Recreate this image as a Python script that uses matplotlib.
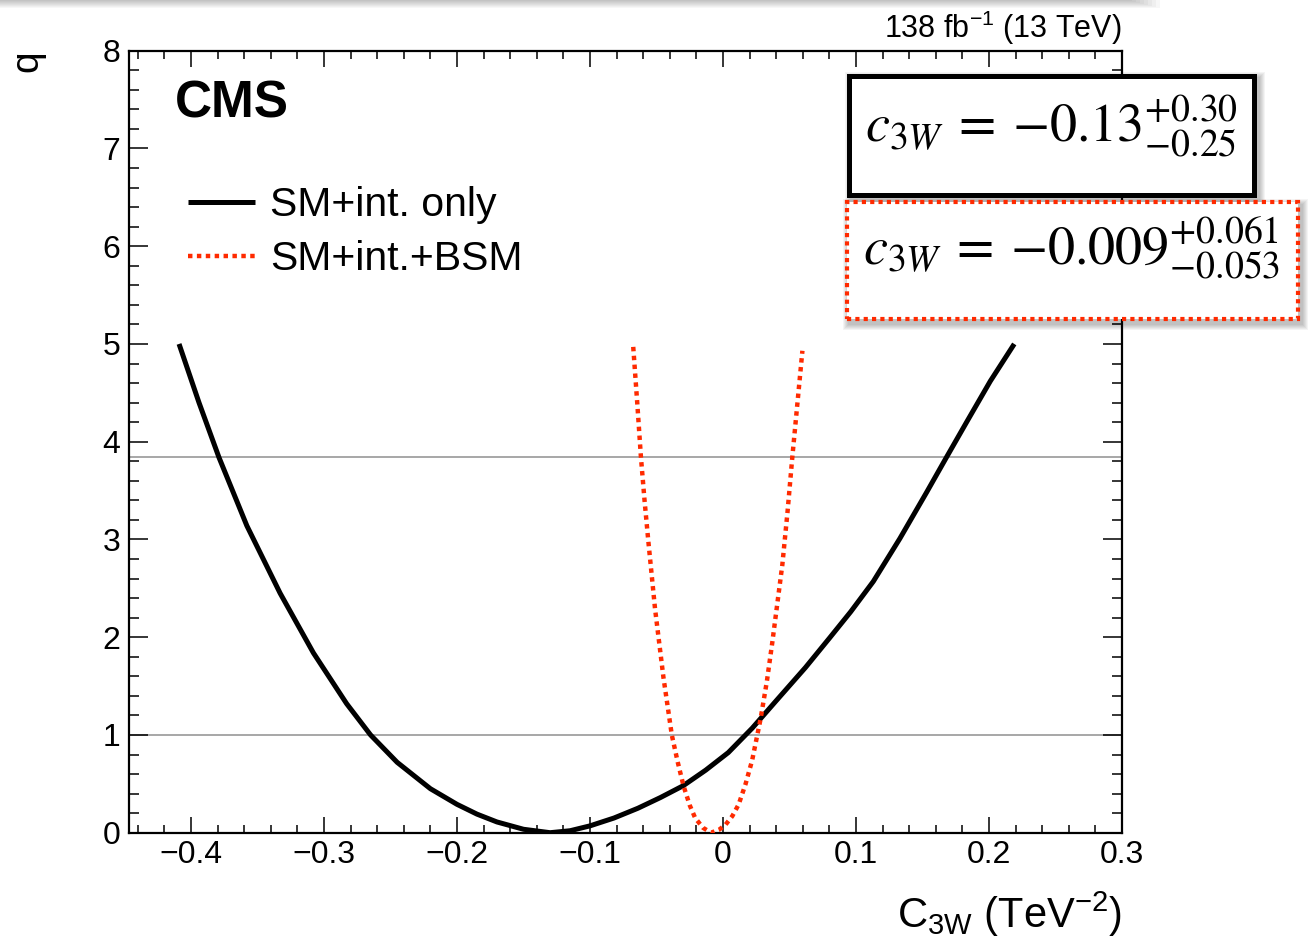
import matplotlib
matplotlib.use("Agg")
import matplotlib.pyplot as plt
from matplotlib.patches import Rectangle
from matplotlib.lines import Line2D
from matplotlib.ticker import MultipleLocator, FuncFormatter

# Likelihood scan: SM + interference only
c3w_sm = [-0.409, -0.394, -0.379, -0.358, -0.333, -0.308, -0.283, -0.265, -0.245,
          -0.220, -0.200, -0.185, -0.170, -0.150, -0.130, -0.115, -0.100, -0.082,
          -0.064, -0.047, -0.030, -0.013, 0.004, 0.022, 0.040, 0.062, 0.080, 0.096,
          0.113, 0.133, 0.153, 0.168, 0.184, 0.201, 0.219]
q_sm = [5.00, 4.40, 3.84, 3.14, 2.45, 1.84, 1.32, 1.00, 0.72,
        0.45, 0.29, 0.19, 0.11, 0.035, 0.0, 0.02, 0.07, 0.15,
        0.25, 0.36, 0.48, 0.64, 0.82, 1.07, 1.35, 1.69, 1.99, 2.26,
        2.57, 3.01, 3.48, 3.84, 4.22, 4.62, 5.00]

# Likelihood scan: SM + interference + BSM
c3w_bsm = [-0.0675, -0.0645, -0.0617, -0.0590, -0.0562, -0.0511, -0.0448, -0.0385,
           -0.0340, -0.0297, -0.0250, -0.0209, -0.0150, -0.0090, -0.0030, 0.0018,
           0.0070, 0.0118, 0.0170, 0.0219, 0.0282, 0.0330, 0.0370, 0.0446, 0.0485,
           0.0521, 0.0560, 0.0597]
q_bsm = [4.97, 4.40, 3.84, 3.40, 2.99, 2.29, 1.59, 1.00,
         0.72, 0.48, 0.28, 0.15, 0.05, 0.0, 0.03, 0.08,
         0.17, 0.29, 0.50, 0.74, 1.16, 1.55, 1.94, 2.74, 3.28,
         3.84, 4.40, 4.93]

ref_levels = [1.0, 3.84]
legend_labels = ["SM+int. only", "SM+int.+BSM"]
fit_sm = ("0.13", "+0.30", "-0.25")
fit_bsm = ("0.009", "+0.061", "-0.053")
x_ticks = [-0.4, -0.3, -0.2, -0.1, 0.0, 0.1, 0.2, 0.3]
y_ticks = [0, 1, 2, 3, 4, 5, 6, 7, 8]

RED = "#ff2a00"
W, H = 1309, 941

plt.rcParams["font.family"] = ["Liberation Sans", "DejaVu Sans"]
plt.rcParams["mathtext.fontset"] = "custom"
plt.rcParams["mathtext.rm"] = "Liberation Sans"
plt.rcParams["mathtext.it"] = "Liberation Sans:italic"
plt.rcParams["mathtext.bf"] = "Liberation Sans:bold"

fig = plt.figure(figsize=(W / 100, H / 100), dpi=100)


def fx(px):
    return px / W


def fy(py):
    return 1 - py / H


ax = fig.add_axes([fx(128.5), fy(832.7), (1122 - 128.5) / W, (832.7 - 50.7) / H])

for lvl in ref_levels:
    ax.axhline(lvl, color="#8f8f8f", lw=1.1, zorder=1)

ax.plot(c3w_sm, q_sm, color="black", lw=3.6, solid_capstyle="butt",
        solid_joinstyle="round", zorder=3)
ax.plot(c3w_bsm, q_bsm, color=RED, lw=3.2, linestyle=(0, (1.0, 1.0)),
        dash_capstyle="butt", zorder=3)

ax.set_xlim(-0.447, 0.3)
ax.set_ylim(0, 8)
ax.set_xticks(x_ticks)
ax.set_yticks(y_ticks)
ax.xaxis.set_minor_locator(MultipleLocator(0.02))
ax.yaxis.set_minor_locator(MultipleLocator(0.2))
ax.tick_params(which="both", direction="in", top=True, right=True, width=1.1,
               labelsize=23, colors="black")
ax.tick_params(axis="x", which="major", length=11.5, pad=5)
ax.tick_params(axis="x", which="minor", length=5.8)
ax.tick_params(axis="y", which="major", length=13.7, pad=6)
ax.tick_params(axis="y", which="minor", length=7.2)
ax.xaxis.set_major_formatter(FuncFormatter(
    lambda v, p: "0" if abs(v) < 1e-9 else f"{v:.1f}".replace("-", "\u2212")))
for s in ax.spines.values():
    s.set_linewidth(1.6)

ax.set_xlabel(r"C$_{\mathrm{3W}}$ (TeV$^{-2}$)", fontsize=30, loc="right")
ax.xaxis.set_label_coords(1.0, -(928 - 832.7) / 782.0)
ax.xaxis.label.set_va("baseline")
ax.set_ylabel("q", fontsize=28, rotation=90)
ax.yaxis.set_label_coords((27 - 128.5) / 993.5, 1.0)
ax.yaxis.label.set_rotation_mode("anchor")
ax.yaxis.label.set_ha("right")
ax.yaxis.label.set_va("center")

handles = [Line2D([], [], color="black", lw=3.6, solid_capstyle="butt"),
           Line2D([], [], color=RED, lw=3.2, linestyle=(0, (1.0, 1.0)),
                  dash_capstyle="butt")]
ax.legend(handles, legend_labels, loc="upper left",
          bbox_to_anchor=(fx(188), fy(186)), bbox_transform=fig.transFigure,
          frameon=False, fontsize=29.5, handlelength=1.64, handletextpad=0.37,
          borderpad=0, borderaxespad=0, labelspacing=0.40)

fig.text(fx(175), fy(118), "CMS", fontsize=37, fontweight="bold",
         ha="left", va="baseline")
fig.text(fx(1122), fy(38), r"138 fb$^{-1}$ (13 TeV)", fontsize=22,
         ha="right", va="baseline")


def shadow(x0, y0, x1, y1, layers=6, dx=3, dy=4):
    for k in range(layers):
        fig.patches.append(Rectangle((fx(x0 + dx - k), fy(y1 + dy + k)),
                                     (x1 - x0 + 2 * k) / W, (y1 - y0 + 2 * k) / H,
                                     transform=fig.transFigure, facecolor="black",
                                     edgecolor="none", alpha=0.045, zorder=4))


# drop shadow band along the top edge
for k in range(1, 9):
    fig.patches.append(Rectangle((0, fy(k)), fx(1160 - 4 * (8 - k)), k / H,
                                 transform=fig.transFigure, facecolor="black",
                                 edgecolor="none", alpha=0.03, zorder=4))

# result boxes
shadow(847, 73, 1257, 197)
shadow(845, 200, 1300, 321)
fig.patches.append(Rectangle((fx(849.5), fy(194.5)), (1254.5 - 849.5) / W,
                             (194.5 - 75.5) / H, transform=fig.transFigure,
                             facecolor="white", edgecolor="black", lw=3.6,
                             zorder=5))
fig.patches.append(Rectangle((fx(847), fy(319)), (1298 - 847) / W,
                             (319 - 202) / H, transform=fig.transFigure,
                             facecolor="white", edgecolor=RED, lw=3.0,
                             linestyle=(0, (1.0, 1.0)), zorder=5))

result_fmt = r"$c_{3W}\:=\:{-}%s^{%s}_{%s}$"
fig.text(fx(865), fy(142), result_fmt % fit_sm,
         fontsize=39, math_fontfamily="stix", ha="left", va="baseline", zorder=6)
fig.text(fx(863), fy(265), result_fmt % fit_bsm,
         fontsize=39, math_fontfamily="stix", ha="left", va="baseline", zorder=6)

fig.savefig("out.png", dpi=100, facecolor="white")
